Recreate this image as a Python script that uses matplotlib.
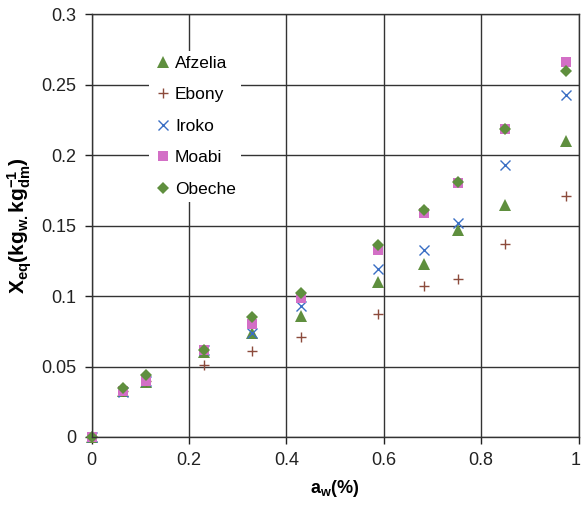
import matplotlib
matplotlib.use('Agg')
import matplotlib.pyplot as plt
import matplotlib.transforms as mtransforms

plt.rcParams['font.family'] = ['Liberation Sans', 'DejaVu Sans']
plt.rcParams['mathtext.fontset'] = 'custom'
plt.rcParams['mathtext.rm'] = 'Liberation Sans'
plt.rcParams['mathtext.it'] = 'Liberation Sans'
plt.rcParams['mathtext.bf'] = 'Liberation Sans:bold'

# water activity
aw = [0.0, 0.064, 0.111, 0.231, 0.329, 0.430, 0.588, 0.683, 0.753, 0.850, 0.975]

afzelia = [0.0, 0.033, 0.039, 0.060, 0.074, 0.086, 0.110, 0.123, 0.147, 0.165, 0.210]
ebony = [0.0, 0.033, 0.040, 0.051, 0.061, 0.071, 0.087, 0.107, 0.112, 0.137, 0.171]
iroko = [0.0, 0.032, 0.040, 0.062, 0.074, 0.093, 0.119, 0.133, 0.152, 0.193, 0.243]
moabi = [0.0, 0.033, 0.040, 0.062, 0.080, 0.099, 0.133, 0.159, 0.180, 0.219, 0.266]
obeche = [0.0, 0.035, 0.044, 0.062, 0.085, 0.102, 0.136, 0.161, 0.181, 0.219, 0.260]

series = [
    ('Afzelia', afzelia, '^', '#5f8f3e', 8),
    ('Ebony', ebony, '+', '#8c4b3c', 7),
    ('Iroko', iroko, 'x', '#3a6fc4', 7),
    ('Moabi', moabi, 's', '#d36fc6', 7),
    ('Obeche', obeche, 'D', '#5f8f3e', 6),
]

fig = plt.figure(figsize=(5.81, 5.08), dpi=100)
ax = fig.add_axes([0.1575, 0.1398, 0.8382, 0.8317])

for name, vals, mk, col, ms in series:
    ax.plot(aw, vals, linestyle='none', marker=mk, color=col, markersize=ms,
            markeredgewidth=1.0 if mk in '+x' else 0, label=name, clip_on=False)

ax.set_xlim(0, 1)
ax.set_ylim(0, 0.3)
ax.set_xticks([0, 0.2, 0.4, 0.6, 0.8, 1.0])
ax.set_xticklabels(['0', '0.2', '0.4', '0.6', '0.8', '1'])
ax.set_yticks([0, 0.05, 0.1, 0.15, 0.2, 0.25, 0.3])
ax.set_yticklabels(['0', '0.05', '0.1', '0.15', '0.2', '0.25', '0.3'])
ax.tick_params(direction='out', length=5, width=1, labelsize=13, pad=6, colors='#222222')
ax.grid(True, color='#333333', linewidth=1)
ax.set_axisbelow(True)
for s in ax.spines.values():
    s.set_color('#333333')
    s.set_linewidth(1)

# keep the last x tick label inside the figure
last = ax.get_xticklabels()[-1]
last.set_transform(last.get_transform() +
                   mtransforms.ScaledTranslation(-3 / 100, 0, fig.dpi_scale_trans))

ax.set_xlabel(r'$\mathbf{a_{w}}$' + '(%)', fontsize=13, fontweight='bold', labelpad=6)
ax.set_ylabel(r'$\mathbf{X_{eq}(kg_{w.}kg_{dm}^{-1})}$', fontsize=15, labelpad=5)

leg = ax.legend(loc='upper left', bbox_to_anchor=(0.1, 0.935), frameon=True,
                fontsize=12.5, labelspacing=0.94, handletextpad=0.2,
                handlelength=1.0, borderpad=0.3)
leg.get_frame().set_edgecolor('none')
leg.get_frame().set_facecolor('white')
leg.get_frame().set_alpha(1)
leg.get_frame().set_boxstyle('square', pad=0)

fig.savefig('out.png', dpi=100, facecolor='white')
